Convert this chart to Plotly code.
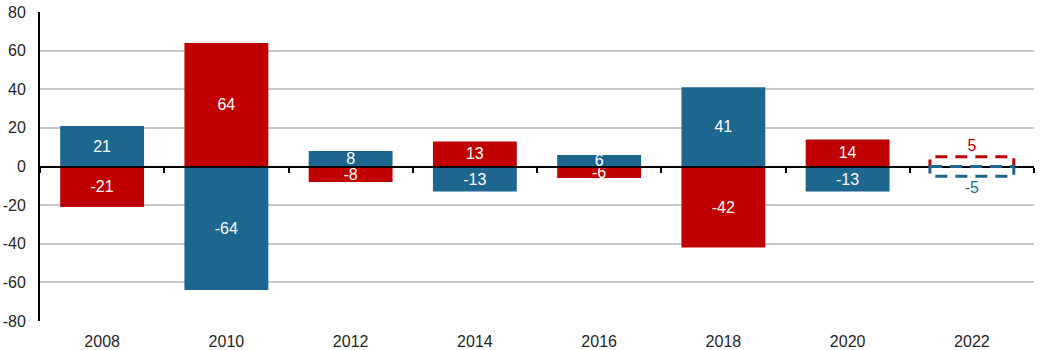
import plotly.graph_objects as go

years = [2008, 2010, 2012, 2014, 2016, 2018, 2020, 2022]
blue_vals = [21, -64, 8, -13, 6, 41, -13, -5]
red_vals = [-21, 64, -8, 13, -6, -42, 14, 5]
projected = [False, False, False, False, False, False, False, True]
y_ticks = [-80, -60, -40, -20, 0, 20, 40, 60, 80]

BLUE = "#1d6690"
RED = "#c00000"
BAR_W = 1.35
FONT = "Liberation Sans, Arial, sans-serif"
FS = 16

fig = go.Figure()

def add_series(vals, color):
    colors = ["rgba(0,0,0,0)" if p else color for p in projected]
    txtcol = [color if p else "white" for p in projected]
    pos = ["outside" if p else "inside" for p in projected]
    fig.add_trace(go.Bar(
        x=years, y=vals, width=BAR_W,
        marker=dict(color=colors, line=dict(width=0)),
        text=[str(v) for v in vals], textposition=pos,
        insidetextanchor="middle", textangle=0, constraintext="none",
        textfont=dict(color=txtcol, size=FS, family=FONT),
        cliponaxis=False, showlegend=False, hoverinfo="skip",
    ))

add_series(blue_vals, BLUE)
add_series(red_vals, RED)

# dashed outline for projected bars
for yr, bv, rv, p in zip(years, blue_vals, red_vals, projected):
    if not p:
        continue
    for v, c in ((rv, RED), (bv, BLUE)):
        fig.add_shape(type="rect", xref="x", yref="y",
                      x0=yr - BAR_W / 2, x1=yr + BAR_W / 2, y0=0, y1=v,
                      line=dict(color=c, width=3, dash="12px,8px"),
                      fillcolor="rgba(0,0,0,0)", layer="above")

# helper trace for the zero-line axis
boundaries = [y - 1 for y in years] + [years[-1] + 1]
fig.add_trace(go.Scatter(x=[years[0]], y=[0], xaxis="x2", mode="markers",
                         marker=dict(opacity=0), showlegend=False, hoverinfo="skip"))

fig.update_layout(
    width=1046, height=350,
    margin=dict(l=40, r=12, t=12, b=29),
    barmode="overlay",
    plot_bgcolor="white", paper_bgcolor="white",
    font=dict(family=FONT, size=FS, color="#262626"),
    xaxis=dict(range=[years[0] - 1, years[-1] + 1], tickvals=years,
               ticktext=[str(y) for y in years], showgrid=False,
               zeroline=False, showline=False, ticks="",
               ticklabelstandoff=9, tickfont=dict(size=FS), automargin=False),
    xaxis2=dict(overlaying="x", anchor="free", position=0.5,
                range=[years[0] - 1, years[-1] + 1], tickvals=boundaries,
                showticklabels=False, ticks="outside", ticklen=5, tickwidth=2,
                tickcolor="black", showline=True, linecolor="black", linewidth=2,
                showgrid=False, zeroline=False, side="bottom", automargin=False),
    yaxis=dict(range=[y_ticks[0], y_ticks[-1]], tickvals=y_ticks,
               ticktext=[str(v) for v in y_ticks],
               showgrid=True, gridcolor="#c8c8c8",
               gridwidth=2, zeroline=False, showline=True, linecolor="black",
               linewidth=2, ticks="", ticklabelstandoff=9,
               tickfont=dict(size=FS), automargin=False),
)

fig.write_html("out.html")
